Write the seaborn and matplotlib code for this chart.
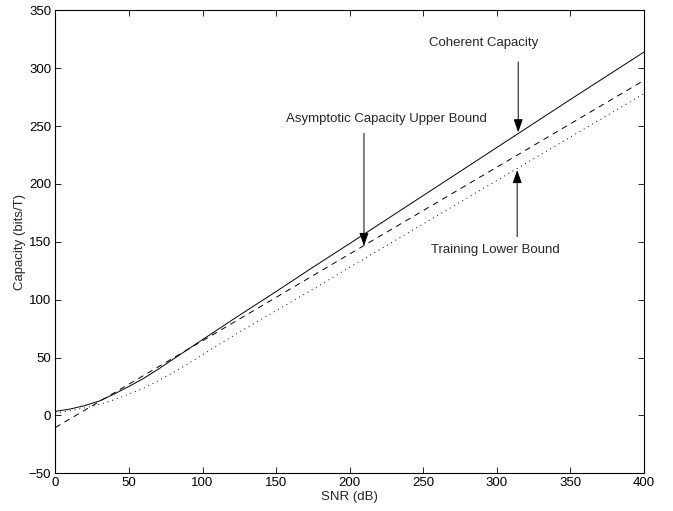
import matplotlib
matplotlib.use("Agg")
import matplotlib.pyplot as plt
import seaborn as sns

# values
snr_db = [0, 10, 20, 30, 40, 50, 60, 70, 80, 90, 100, 125, 150, 175, 200, 250, 300, 350, 400]
coherent = [3.5, 5.5, 8.5, 12.5, 18.5, 25, 32, 40, 48.5, 57, 65.5, 86.5, 107, 128, 148.5, 190, 231.5, 273, 314]
upper_bound = [-10.5, -3, 4.5, 12, 19.5, 27, 34.5, 42, 49.5, 57, 64.5, 83.25, 102, 120.75, 139.5, 177, 214.5, 252, 289.5]
lower_bound = [2, 4, 6.5, 9.5, 13.5, 18.5, 23.5, 30, 37, 44.5, 52.5, 72, 90.5, 109, 128, 165.5, 203, 240.5, 278]

x_ticks = [0, 50, 100, 150, 200, 250, 300, 350, 400]
y_ticks = [-50, 0, 50, 100, 150, 200, 250, 300, 350]

sns.set_style("ticks")
plt.rcParams['font.family'] = ['Liberation Sans', 'DejaVu Sans']
fs = 9.5

fig = plt.figure(figsize=(6.73, 5.11), dpi=100)
ax = fig.add_axes([0.0822, 0.0738, 0.8748, 0.906])

sns.lineplot(x=snr_db, y=coherent, ax=ax, color='k', lw=0.7)
sns.lineplot(x=snr_db, y=upper_bound, ax=ax, color='k', lw=0.7)
ax.lines[-1].set_linestyle((0, (6, 5)))
sns.lineplot(x=snr_db, y=lower_bound, ax=ax, color='k', lw=0.7)
ax.lines[-1].set_linestyle((0, (1, 4)))

ax.set_xlim(0, 400)
ax.set_ylim(-50, 350)
ax.set_xticks(x_ticks)
ax.set_yticks(y_ticks)
ax.tick_params(direction='in', length=4, width=0.6, labelsize=fs,
               top=True, right=True, colors='k', pad=3)
for s in ax.spines.values():
    s.set_linewidth(0.8)
    s.set_color('k')
ax.set_xlabel('SNR (dB)', fontsize=fs, labelpad=1)
ax.set_ylabel('Capacity (bits/T)', fontsize=fs, labelpad=2)

arrow = dict(arrowstyle='-|>,head_length=0.8,head_width=0.28', color='k',
             lw=0.7, shrinkA=0, shrinkB=0)
ax.text(291, 321.7, 'Coherent Capacity', ha='center', va='center', fontsize=fs)
ax.annotate('', xy=(314.5, 244.6), xytext=(314.5, 305.4), arrowprops=arrow)
ax.text(225, 255.8, 'Asymptotic Capacity Upper Bound', ha='center', va='center', fontsize=fs)
ax.annotate('', xy=(209.7, 146.4), xytext=(209.7, 243.7), arrowprops=arrow)
ax.text(299, 142.9, 'Training Lower Bound', ha='center', va='center', fontsize=fs)
ax.annotate('', xy=(313.8, 212.0), xytext=(313.8, 154.4), arrowprops=arrow)

fig.savefig('out.png', dpi=100)
